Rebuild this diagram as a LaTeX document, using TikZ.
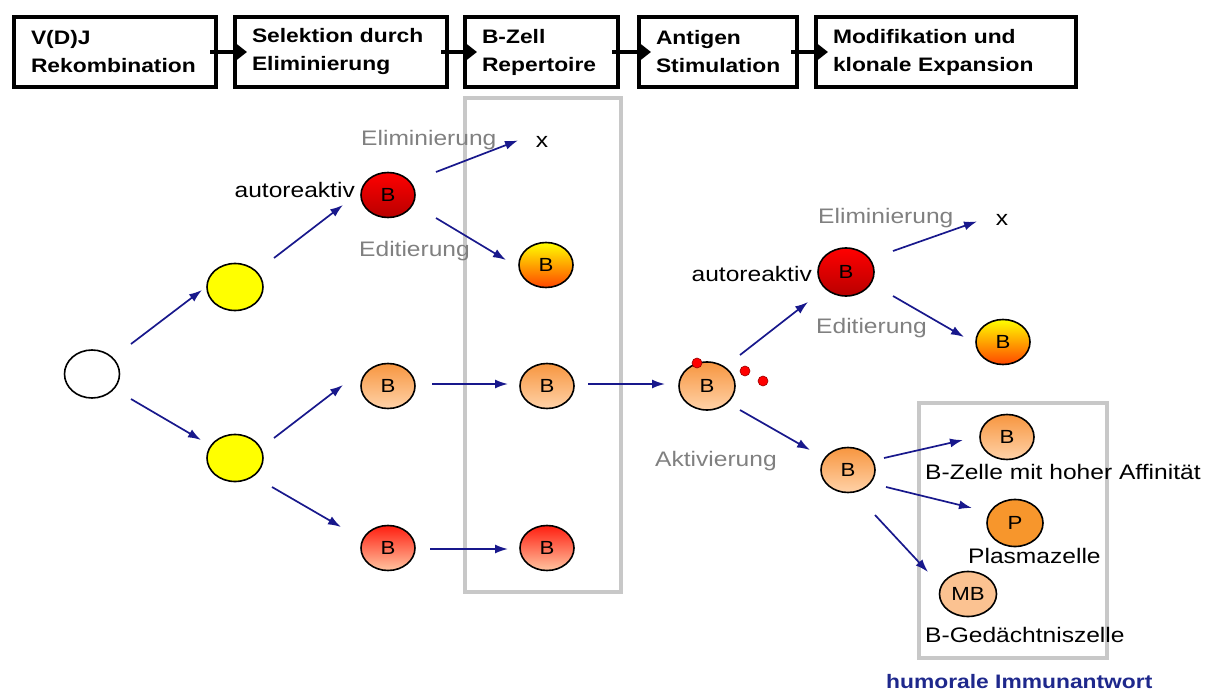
\documentclass[tikz,border=0pt]{standalone}
\usepackage{fontspec}
\setmainfont{Liberation Sans}[FakeStretch=1.17]
\usetikzlibrary{shapes.geometric,arrows.meta}
\definecolor{arrblue}{RGB}{24,24,140}
\definecolor{lblgray}{RGB}{128,128,128}
\definecolor{framegray}{RGB}{200,200,200}
\definecolor{humblue}{RGB}{30,40,140}
\definecolor{orTop}{RGB}{247,150,64}
\definecolor{orBot}{RGB}{255,210,168}
\definecolor{rdTop}{RGB}{255,0,0}
\definecolor{rdBot}{RGB}{184,0,0}
\definecolor{pkTop}{RGB}{255,30,16}
\definecolor{pkBot}{RGB}{255,196,160}
\definecolor{ylTop}{RGB}{255,255,0}
\definecolor{ylBot}{RGB}{255,70,0}
\definecolor{plasma}{RGB}{247,150,44}
\definecolor{memory}{RGB}{251,194,145}
\newcommand\lblfnt{\fontsize{21}{25}\selectfont}
\newcommand\boxfnt{\fontsize{19.5}{28}\selectfont\bfseries}
\newcommand\cellfnt{\fontsize{19}{22}\selectfont}
\begin{document}
\begin{tikzpicture}[x=1pt,y=-1pt,
  topbox/.style={draw, line width=4pt, minimum height=70pt, inner xsep=17pt, inner ysep=0pt, align=left, font=\boxfnt},
  toparr/.style={line width=4pt, -{Triangle[length=12pt,width=18pt]}},
  cell/.style={ellipse, draw=black, line width=1.6pt, minimum width=54pt, minimum height=45pt, inner sep=0pt, font=\cellfnt},
  orcell/.style={cell, top color=orTop, bottom color=orBot},
  rdcell/.style={cell, top color=rdTop, bottom color=rdBot},
  pkcell/.style={cell, top color=pkTop, bottom color=pkBot},
  ylcell/.style={cell, top color=ylTop, bottom color=ylBot},
  arr/.style={draw=arrblue, line width=1.7pt, -{Latex[length=13pt,width=9pt]}},
  lbl/.style={font=\lblfnt, inner sep=0pt},
  glbl/.style={lbl, text=lblgray},
  frame/.style={draw=framegray, line width=4pt},
  dot/.style={circle, fill=red, draw=red!60!black, line width=0.6pt, minimum size=10pt, inner sep=0pt}
]
\useasboundingbox (0,0) rectangle (1219,693);

% top process boxes
\node[topbox, minimum width=202pt, text width=168pt] (b1) at (115,52) {V(D)J\\Rekombination};
\node[topbox, minimum width=212pt, text width=178pt] (b2) at (341,52) {Selektion durch\\Eliminierung};
\node[topbox, minimum width=153pt, text width=119pt] (b3) at (541.5,52) {B-Zell\\Repertoire};
\node[topbox, minimum width=158pt, text width=124pt] (b4) at (718,52) {Antigen\\Stimulation};
\node[topbox, minimum width=260pt, text width=226pt] (b5) at (946,52) {Modifikation und\\klonale Expansion};
\draw[toparr] ([xshift=-8pt]b1.east) -- ([xshift=14pt]b2.west);
\draw[toparr] ([xshift=-8pt]b2.east) -- ([xshift=14pt]b3.west);
\draw[toparr] ([xshift=-8pt]b3.east) -- ([xshift=14pt]b4.west);
\draw[toparr] ([xshift=-8pt]b4.east) -- ([xshift=14pt]b5.west);

% frames
\node[frame, minimum width=156pt, minimum height=494pt, inner sep=0pt] (repframe) at (543,345) {};
\node[frame, minimum width=188pt, minimum height=255pt, inner sep=0pt] (humframe) at (1013,530.5) {};

% cells
\node[cell, fill=white, minimum width=55pt, minimum height=48pt] (w) at (92,374) {};
\node[cell, fill=ylTop, minimum width=56pt, minimum height=47pt] (y1) at (235,287) {};
\node[cell, fill=ylTop, minimum width=56pt, minimum height=47pt] (y2) at (235,458) {};
\node[rdcell] (rB1) at (388,195) {B};
\node[orcell] (oB1) at (388,386) {B};
\node[pkcell] (pB1) at (388,548) {B};
\node[ylcell] (yB1) at (546,265) {B};
\node[orcell] (oB2) at (547,386) {B};
\node[pkcell] (pB2) at (547,548) {B};
\node[orcell, minimum width=56pt, minimum height=48pt] (act) at (707,386) {B};
\node[rdcell, minimum width=56pt, minimum height=48pt] (rB2) at (846,272) {B};
\node[ylcell] (yB2) at (1003,342) {B};
\node[orcell] (oB3) at (848,470) {B};
\node[orcell] (hB) at (1007,437) {B};
\node[cell, fill=plasma, minimum width=56pt, minimum height=47pt] (P) at (1015,523) {P};
\node[cell, fill=memory, minimum width=57pt, minimum height=45pt] (MB) at (968,594) {MB};

% antigen dots
\node[dot] (d1) at (697,363) {};
\node[dot] (d2) at (745,371) {};
\node[dot] (d3) at (763,381) {};

% labels
\node[lbl, anchor=base east] (ar1) at (355,197) {autoreaktiv};
\node[glbl, anchor=base west] (el1) at (361,145) {Eliminierung};
\node[lbl, anchor=base] (x1) at (542,147) {x};
\node[glbl, anchor=base west] (ed1) at (359,256) {Editierung};
\node[lbl, anchor=base east] (ar2) at (812,281) {autoreaktiv};
\node[glbl, anchor=base west] (el2) at (818,223) {Eliminierung};
\node[lbl, anchor=base] (x2) at (1002,225) {x};
\node[glbl, anchor=base west] (ed2) at (816,333) {Editierung};
\node[glbl, anchor=base west] (akt) at (655,466) {Aktivierung};
\node[lbl, anchor=base west] (t1) at (925,479) {B-Zelle mit hoher Affinität};
\node[lbl, anchor=base west] (t2) at (968,563) {Plasmazelle};
\node[lbl, anchor=base west] (t3) at (925,642) {B-Gedächtniszelle};
\node[font=\boxfnt, text=humblue, inner sep=0pt, anchor=base west] (hum) at (886,688) {humorale Immunantwort};

% connectors
\draw[arr] ([shift={(39,-30)}]w.center) -- ([shift={(-33,3)}]y1.center);
\draw[arr] ([shift={(39,25)}]w.center) -- ([shift={(-34,-18)}]y2.center);
\draw[arr] ([shift={(39,-29)}]y1.center) -- ([shift={(-45,10)}]rB1.center);
\draw[arr] ([shift={(39,-20)}]y2.center) -- ([shift={(-45,-1)}]oB1.center);
\draw[arr] ([shift={(37,29)}]y2.center) -- ([shift={(-47,-21)}]pB1.center);
\draw[arr] ([shift={(48,-23)}]rB1.center) -- ([shift={(-24,-1)}]x1.center);
\draw[arr] ([shift={(48,23)}]rB1.center) -- ([shift={(-40,-5)}]yB1.center);
\draw[arr] ([shift={(44,-2)}]oB1.center) -- ([shift={(-39,-2)}]oB2.center);
\draw[arr] ([shift={(42,1)}]pB1.center) -- ([shift={(-39,1)}]pB2.center);
\draw[arr] ([shift={(41,-2)}]oB2.center) -- ([shift={(-42,-2)}]act.center);
\draw[arr] ([shift={(33,-31)}]act.center) -- ([shift={(-38,30)}]rB2.center);
\draw[arr] ([shift={(33,24)}]act.center) -- ([shift={(-38,-20)}]oB3.center);
\draw[arr] ([shift={(47,-21)}]rB2.center) -- ([shift={(-25,2)}]x2.center);
\draw[arr] ([shift={(47,24)}]rB2.center) -- ([shift={(-39,-5)}]yB2.center);
\draw[arr] ([shift={(36,-12)}]oB3.center) -- ([shift={(-44,3)}]hB.center);
\draw[arr] ([shift={(38,17)}]oB3.center) -- ([shift={(-43,-15)}]P.center);
\draw[arr] ([shift={(27,45)}]oB3.center) -- ([shift={(-40,-22)}]MB.center);
\end{tikzpicture}
\end{document}
